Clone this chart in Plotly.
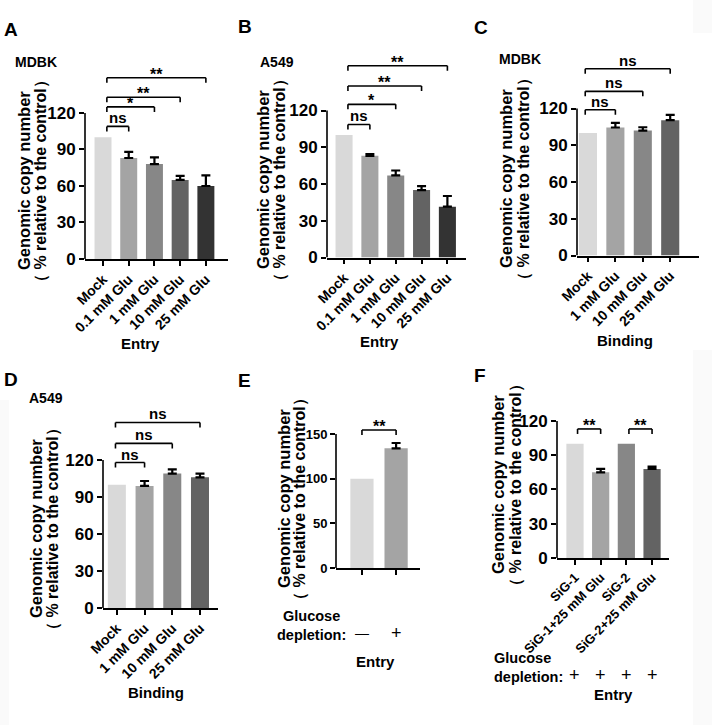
import plotly.graph_objects as go

# ---------------- data ----------------
a_cats = ["Mock", "0.1 mM Glu", "1 mM Glu", "10 mM Glu", "25 mM Glu"]
a_vals = [100, 83, 78, 65, 60]
a_errs = [None, 5, 5.5, 3.3, 8.8]
a_sig = [(0, 1, 109, "ns"), (0, 2, 125, "*"), (0, 3, 133, "**"), (0, 4, 149, "**")]

b_cats = ["Mock", "0.1 mM Glu", "1 mM Glu", "10 mM Glu", "25 mM Glu"]
b_vals = [100, 83, 67, 55, 41.5]
b_errs = [None, 1.5, 4, 3.3, 8.7]
b_sig = [(0, 1, 108.6, "ns"), (0, 2, 125, "*"), (0, 3, 140, "**"), (0, 4, 156.5, "**")]

c_cats = ["Mock", "1 mM Glu", "10 mM Glu", "25 mM Glu"]
c_vals = [100, 104.5, 102, 110.5]
c_errs = [None, 3.8, 2.7, 4.3]
c_sig = [(0, 1, 119, "ns"), (0, 2, 134, "ns"), (0, 3, 152.5, "ns")]

d_cats = ["Mock", "1 mM Glu", "10 mM Glu", "25 mM Glu"]
d_vals = [100, 99, 109, 106]
d_errs = [None, 4, 3.5, 3]
d_sig = [(0, 1, 118, "ns"), (0, 2, 133.5, "ns"), (0, 3, 150.5, "ns")]

e_cats = ["no depletion", "depletion"]
e_depletion = ["—", "+"]
e_vals = [100, 134]
e_errs = [None, 6]
e_sig = [(0, 1, 154.5, "**")]

f_cats = ["SiG-1", "SiG-1+25 mM Glu", "SiG-2", "SiG-2+25 mM Glu"]
f_depletion = ["+", "+", "+", "+"]
f_vals = [100, 75, 100, 78]
f_errs = [None, 3, None, 2]
f_sig = [(0, 1, 113, "**"), (2, 3, 113, "**")]

# ---------------- layout helpers ----------------
W, H = 712, 725
FONT = "Liberation Sans, Arial, Helvetica, sans-serif"
GRAYS5 = ["#d9d9d9", "#a4a4a4", "#878787", "#636363", "#333333"]
GRAYS4 = ["#d9d9d9", "#a4a4a4", "#878787", "#636363"]


def px(x):
    return x / W


def py(y):
    return 1 - y / H


panels = [
    dict(cats=a_cats, vals=a_vals, errs=a_errs, sig=a_sig, colors=GRAYS5,
         xl=85, xr=228, y0=259, scale=1.2167, ymax=160, xrange=[-0.7, 4.86],
         bw=0.66, tickvals=[0, 30, 60, 90, 120], ytop=120, boff=0.15,
         labels=True, tfs=14, yfs=17,
         letter=("A", 2, 29), cell=("MDBK", 13, 62), xt=("Entry", 140, 343),
         ytitle=(24, 41, 181)),
    dict(cats=b_cats, vals=b_vals, errs=b_errs, sig=b_sig, colors=GRAYS5,
         xl=327, xr=466, y0=257.5, scale=1.225, ymax=166, xrange=[-0.66, 4.72],
         bw=0.66, tickvals=[0, 30, 60, 90, 120], ytop=120, boff=0.15,
         labels=True, tfs=14, yfs=17,
         letter=("B", 236, 27), cell=("A549", 258, 62), xt=("Entry", 379, 342),
         ytitle=(263, 280, 180)),
    dict(cats=c_cats, vals=c_vals, errs=c_errs, sig=c_sig, colors=GRAYS4,
         xl=577, xr=699, y0=255.5, scale=1.225, ymax=166, xrange=[-0.4, 4.05],
         bw=0.66, tickvals=[0, 30, 60, 90, 120], ytop=120, boff=-0.1,
         labels=True, tfs=14, yfs=17,
         letter=("C", 472, 28), cell=("MDBK", 497, 59), xt=("Binding", 625, 340),
         ytitle=(506, 524, 179)),
    dict(cats=d_cats, vals=d_vals, errs=d_errs, sig=d_sig, colors=GRAYS4,
         xl=103, xr=218, y0=608, scale=1.233, ymax=166, xrange=[-0.5, 3.65],
         bw=0.65, tickvals=[0, 30, 60, 90, 120], ytop=120, boff=-0.05,
         labels=True, tfs=14, yfs=17,
         letter=("D", 2, 379), cell=("A549", 27, 398), xt=("Binding", 156, 692),
         ytitle=(36, 53, 529)),
    dict(cats=e_cats, vals=e_vals, errs=e_errs, sig=e_sig, colors=GRAYS4[:2],
         xl=336, xr=420, y0=568, scale=0.893, ymax=172, xrange=[-0.76, 1.7],
         bw=0.68, tickvals=[0, 50, 100, 150], ytop=150, boff=0.0,
         labels=False, tfs=12, yfs=13,
         letter=("E", 236, 380), cell=None, xt=("Entry", 376, 661),
         ytitle=(284, 300, 499),
         depl=e_depletion, depl_pos=(311, 625, "center"), depl_row=633),
    dict(cats=f_cats, vals=f_vals, errs=f_errs, sig=f_sig, colors=GRAYS4,
         xl=557, xr=669, y0=558, scale=1.142, ymax=126, xrange=[-0.7, 3.66],
         bw=0.67, tickvals=[0, 30, 60, 90, 120], ytop=120, boff=0.1,
         labels=True, tfs=13, yfs=17,
         letter=("F", 472, 375), cell=None, xt=("Entry", 613, 694),
         ytitle=(498, 516, 485),
         depl=f_depletion, depl_pos=(492, 667, "left"), depl_row=675),
]

fig = go.Figure()
shapes = []
annotations = []

# faint grey page margins seen in the reference
for (x0, x1, y0, y1) in [(693, 712, 0, 33), (693, 712, 350, 725), (0, 9, 400, 725)]:
    shapes.append(dict(type="rect", xref="paper", yref="paper", x0=px(x0), x1=px(x1),
                       y0=py(y1), y1=py(y0), fillcolor="#fafafa", line=dict(width=0),
                       layer="below"))

layout_axes = {}
for i, p in enumerate(panels, start=1):
    s = "" if i == 1 else str(i)
    xa, ya = "x" + s, "y" + s
    ydom = [py(p["y0"]), py(p["y0"] - p["ymax"] * p["scale"])]
    xdom = [px(p["xl"]), px(p["xr"])]

    # bars (one trace per bar so each has its own colour / error bar)
    for cat, val, err, col in zip(p["cats"], p["vals"], p["errs"], p["colors"]):
        fig.add_trace(go.Bar(
            x=[cat], y=[val], width=p["bw"], marker=dict(color=col, line=dict(width=0)),
            error_y=dict(type="data", symmetric=False, array=[err if err else 0],
                         arrayminus=[0], visible=err is not None,
                         color="black", thickness=2.2, width=4.5),
            xaxis=xa, yaxis=ya, showlegend=False, hoverinfo="skip"))

    layout_axes["xaxis" + s] = dict(
        domain=xdom, anchor=ya, type="category", range=p["xrange"], automargin=False,
        showline=True, linecolor="black", linewidth=1.6, ticks="outside",
        ticklen=5, tickwidth=1.6, tickcolor="black", showgrid=False, zeroline=False,
        showticklabels=p["labels"], tickangle=-45,
        tickfont=dict(family=FONT, size=p["tfs"], color="black", weight="bold"),
        fixedrange=True)
    layout_axes["yaxis" + s] = dict(
        domain=ydom, anchor=xa, range=[0, p["ymax"]], showline=False, automargin=False,
        ticks="outside", ticklen=5, tickwidth=1.6, tickcolor="black",
        tickvals=p["tickvals"], showgrid=False, zeroline=False,
        tickfont=dict(family=FONT, size=p["yfs"], color="black", weight="bold"),
        fixedrange=True)

    # y axis line only up to the top tick
    shapes.append(dict(type="line", xref=xa + " domain", yref=ya, x0=0, x1=0,
                       y0=0, y1=p["ytop"], line=dict(color="black", width=1.6)))

    # significance brackets
    leg = 5 / p["scale"]
    for (a, b, h, lab) in p["sig"]:
        xa0 = a + p["boff"]
        for (x0, y0_, x1, y1_) in [(xa0, h - leg, xa0, h), (xa0, h, b, h), (b, h, b, h - leg)]:
            shapes.append(dict(type="line", xref=xa, yref=ya, x0=x0, x1=x1, y0=y0_, y1=y1_,
                               line=dict(color="black", width=1.6)))
        star = lab.startswith("*")
        annotations.append(dict(
            xref=xa, yref=ya, x=(xa0 + b) / 2, y=h, text=lab, showarrow=False,
            yanchor="bottom", yshift=-7 if star else -2,
            font=dict(family=FONT, size=16 if star else 15, color="black", weight="bold")))

    # panel letter
    L, lx, ly = p["letter"]
    annotations.append(dict(xref="paper", yref="paper", x=px(lx), y=py(ly), text=L,
                            showarrow=False, xanchor="left", yanchor="middle",
                            font=dict(family=FONT, size=19, color="black", weight="bold")))
    # cell line label
    if p["cell"]:
        c, cx, cy = p["cell"]
        annotations.append(dict(xref="paper", yref="paper", x=px(cx), y=py(cy), text=c,
                                showarrow=False, xanchor="left", yanchor="middle",
                                font=dict(family=FONT, size=14, color="black", weight="bold")))
    # x title
    t, tx, ty = p["xt"]
    annotations.append(dict(xref="paper", yref="paper", x=px(tx), y=py(ty), text=t,
                            showarrow=False, xanchor="center", yanchor="middle",
                            font=dict(family=FONT, size=15, color="black", weight="bold")))
    # y title (two rotated lines)
    l1x, l2x, ycen = p["ytitle"]
    annotations.append(dict(xref="paper", yref="paper", x=px(l1x), y=py(ycen),
                            text="Genomic copy number", textangle=-90, showarrow=False,
                            xanchor="center", yanchor="middle",
                            font=dict(family=FONT, size=16.5, color="black", weight="bold")))
    annotations.append(dict(xref="paper", yref="paper", x=px(l2x), y=py(ycen),
                            text="（ % relative to the control）", textangle=-90, showarrow=False,
                            xanchor="center", yanchor="middle",
                            font=dict(family=FONT, size=16, color="black", weight="bold")))

    # glucose depletion row
    if "depl" in p:
        gx, gy, al = p["depl_pos"]
        annotations.append(dict(xref="paper", yref="paper", x=px(gx), y=py(gy),
                                text="Glucose<br>depletion:", align=al,
                                showarrow=False, xanchor=al, yanchor="middle",
                                font=dict(family=FONT, size=14.5, color="black", weight="bold")))
        for k, sym in enumerate(p["depl"]):
            annotations.append(dict(xref=xa, yref="paper", x=k, y=py(p["depl_row"]), text=sym,
                                    showarrow=False, xanchor="center", yanchor="middle",
                                    font=dict(family=FONT, size=14 if sym == "—" else 18,
                                              color="black")))

fig.update_layout(
    width=W, height=H, margin=dict(l=0, r=0, t=0, b=0, pad=0),
    paper_bgcolor="white", plot_bgcolor="white", barmode="overlay",
    shapes=shapes, annotations=annotations, showlegend=False,
    font=dict(family=FONT, color="black"),
    **layout_axes,
)

fig.write_html("out.html", config={"displayModeBar": False})
